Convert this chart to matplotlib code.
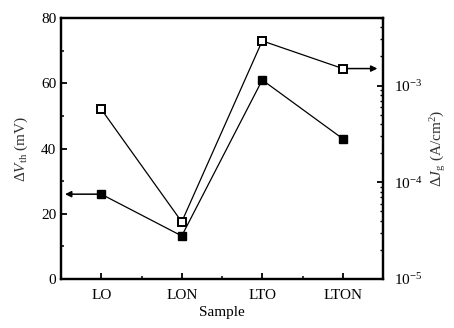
import matplotlib
matplotlib.use("Agg")
import matplotlib.pyplot as plt
from matplotlib.ticker import MultipleLocator, FixedLocator, LogLocator, NullFormatter

plt.rcParams['font.family'] = ['Liberation Serif', 'DejaVu Serif']
plt.rcParams['mathtext.fontset'] = 'custom'
plt.rcParams['mathtext.rm'] = 'Liberation Serif'
plt.rcParams['mathtext.it'] = 'Liberation Serif:italic'

samples = ['LO', 'LON', 'LTO', 'LTON']
dvth = [26, 13.2, 61, 43]                 # mV, left axis
djg = [5.7e-4, 3.9e-5, 2.9e-3, 1.5e-3]    # A/cm^2, right axis

x = list(range(len(samples)))

fig = plt.figure(figsize=(4.54, 3.28), dpi=100)
ax = fig.add_axes([61/454, 1 - 279/328, (383-61)/454, (279-18)/328])
ax2 = ax.twinx()

ax.plot(x, dvth, '-', color='black', lw=0.9, marker='s', ms=5.5,
        mfc='black', mec='black', zorder=3)
ax2.plot(x, djg, '-', color='black', lw=0.9, marker='s', ms=5.5,
         mfc='white', mec='black', mew=1.4, zorder=3)

ax.set_xlim(-0.5, 3.5)
ax.set_ylim(0, 80)
ax2.set_yscale('log')
ax2.set_ylim(1e-5, 5e-3)

# arrows pointing to the axes
ax.annotate('', xy=(-0.45, dvth[0]), xytext=(x[0] - 0.05, dvth[0]),
            arrowprops=dict(arrowstyle='-|>', color='black', lw=1.1,
                            mutation_scale=9, shrinkA=0, shrinkB=0))
ax2.annotate('', xy=(3.43, djg[3]), xytext=(x[3] + 0.05, djg[3]),
             arrowprops=dict(arrowstyle='-|>', color='black', lw=1.1,
                             mutation_scale=9, shrinkA=0, shrinkB=0))

ax.set_xticks(x)
ax.set_xticklabels(samples)
ax.xaxis.set_minor_locator(FixedLocator([0.5, 1.5, 2.5]))
ax.yaxis.set_major_locator(MultipleLocator(20))
ax.yaxis.set_minor_locator(MultipleLocator(10))
ax2.yaxis.set_major_locator(LogLocator(base=10, numticks=10))
ax2.yaxis.set_minor_locator(LogLocator(base=10, subs=range(2, 10), numticks=10))
ax2.yaxis.set_minor_formatter(NullFormatter())

for a in (ax, ax2):
    for s in a.spines.values():
        s.set_linewidth(1.6)
ax.tick_params(which='both', direction='in', labelsize=11, top=False, right=False)
ax.tick_params(which='major', length=4, width=1.3)
ax.tick_params(which='minor', length=2.5, width=1.1)
ax.tick_params(axis='x', which='major', pad=7)
ax2.tick_params(which='both', direction='in', labelsize=11)
ax2.tick_params(which='major', length=4, width=1.3, pad=8)
ax2.tick_params(which='minor', length=2.5, width=1.0)

ax.set_xlabel('Sample', fontsize=11, labelpad=3)
ax.set_ylabel(r'$\Delta V_{\rm th}$ (mV)', fontsize=11, color='#333333', labelpad=8)
ax2.set_ylabel(r'$\Delta J_{\rm g}$ (A/cm$^2$)', fontsize=11, color='#333333', labelpad=4)

fig.savefig('out.png', dpi=100)
